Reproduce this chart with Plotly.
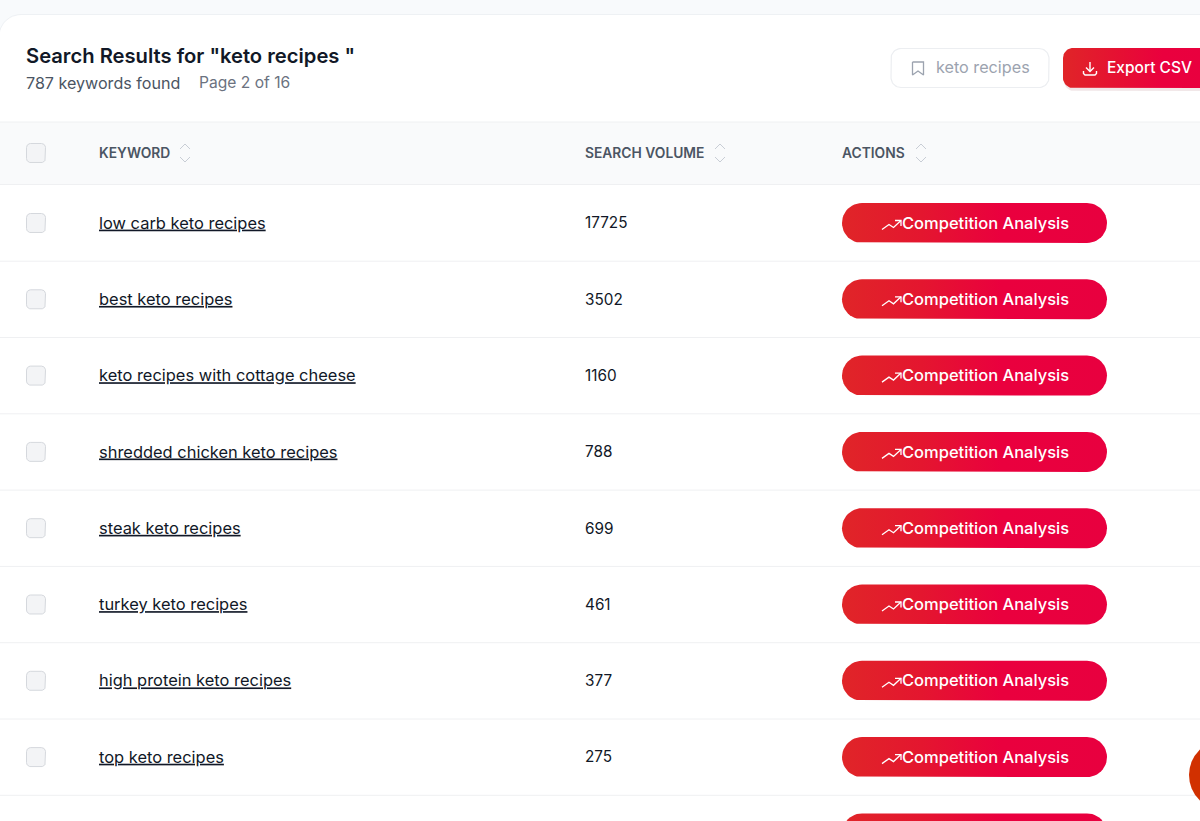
import math
import plotly.graph_objects as go

# ---- data ----
keywords = ["low carb keto recipes", "best keto recipes", "keto recipes with cottage cheese",
            "shredded chicken keto recipes", "steak keto recipes", "turkey keto recipes",
            "high protein keto recipes", "top keto recipes"]
volumes = [17725, 3502, 1160, 788, 699, 461, 377, 275]
columns = ["KEYWORD", "SEARCH VOLUME", "ACTIONS"]
action_label = "Competition Analysis"
title_text = 'Search Results for "keto recipes "'
found_text = "787 keywords found"
page_text = "Page 2 of 16"
tag_text = "keto recipes"
export_text = "Export CSV"

# ---- layout constants ----
W, H = 1200, 821
ROW0, STEP = 223.0, 76.3
FONT = "Inter"
INK = "#111827"
GRAD = [[0, "#e02528"], [0.3, "#e4162f"], [0.6, "#ea003e"], [1, "#e8003f"]]
TXT_DY = 1.5

fig = go.Figure()


def rrect(x0, y0, x1, y1, r):
    xs, ys = [], []
    for cx, cy, a0 in [(x1 - r, y0 + r, -90), (x1 - r, y1 - r, 0), (x0 + r, y1 - r, 90), (x0 + r, y0 + r, 180)]:
        for k in range(13):
            a = math.radians(a0 + k * 7.5)
            xs.append(cx + r * math.cos(a))
            ys.append(cy + r * math.sin(a))
    xs.append(xs[0])
    ys.append(ys[0])
    return xs, ys


def box(x0, y0, x1, y1, r, fill=None, line=None, width=1, grad=None):
    xs, ys = rrect(x0, y0, x1, y1, r)
    kw = dict(x=xs, y=ys, mode="lines", fill="toself", hoverinfo="skip",
              line=dict(color=line or "rgba(0,0,0,0)", width=width if line else 0))
    if grad:
        kw["fillgradient"] = dict(type="horizontal", colorscale=grad)
    else:
        kw["fillcolor"] = fill
    fig.add_trace(go.Scatter(**kw))


def stroke(xs, ys, color, width=1.3):
    fig.add_trace(go.Scatter(x=xs, y=ys, mode="lines", hoverinfo="skip",
                             line=dict(color=color, width=width)))


def label(xs, ys, texts, size, color, weight=400, under=False, pos="middle right"):
    font = dict(family=FONT, size=size, color=color, weight=weight)
    if under:
        font["lineposition"] = "under"
    fig.add_trace(go.Scatter(x=xs, y=[v + TXT_DY for v in ys], text=texts, mode="text", textposition=pos,
                             textfont=font, hoverinfo="skip"))


def chevrons(cx):
    stroke([cx - 5, cx, cx + 5], [149, 144, 149], "#c8cdd5", 1)
    stroke([cx - 5, cx, cx + 5], [157, 162, 157], "#c8cdd5", 1)


def hline(y, color="#eff0f2"):
    stroke([0, W], [y, y], color, 1)


# page strip and card
box(-40, -40, W + 40, H + 40, 0, fill="#f8fafc")
box(-1, 14.5, W + 60, H + 60, 22, fill="#ffffff", line="#eef1f4", width=1)

# header band
box(-2, 122, W + 2, 184.5, 0, fill="#f9fafb")
hline(122)

# title block
label([26], [56.8], [title_text], 20.2, INK, 600)
label([26], [83], [found_text], 16.1, "#4b5563", 400)
label([199], [83], [page_text], 15.6, "#6b7280", 400)

# tag chip
box(891, 48.5, 1049, 87.5, 10, fill="#ffffff", line="#eceef1", width=1.2)
stroke([912.5, 912.5, 918, 923.5, 923.5, 912.5], [62, 75, 71, 75, 62, 62], "#9ca3af", 1.3)
label([936], [67.4], [tag_text], 16.2, "#9ca3af", 400)

# export button
box(1064, 51, W + 30, 91, 10, fill="rgba(120,20,30,0.10)")
box(1063, 48, W + 30, 88, 10, grad=[[0, "#e02528"], [0.35, "#e60f33"], [0.6, "#ea003e"], [1, "#e8003f"]])
stroke([1090, 1090], [62, 71], "#ffffff", 1.4)
stroke([1086, 1090, 1094], [67.5, 71.5, 67.5], "#ffffff", 1.4)
stroke([1083.5, 1083.5, 1085, 1095, 1096.5, 1096.5], [71, 73.5, 75, 75, 73.5, 71], "#ffffff", 1.4)
label([1107], [67.4], [export_text], 15.5, "#ffffff", 500)

# table header
box(26.5, 143.5, 45.5, 162.5, 4, fill="#f3f4f6", line="#d5d8dd", width=1)
label([99, 585, 842], [153, 153, 153], columns, 13.8, "#4b5563", 600)
for cx in [185, 720, 921]:
    chevrons(cx)
hline(184.5)

# rows (one extra action button peeks in at the bottom)
for i in range(len(keywords) + 1):
    yc = ROW0 + i * STEP
    hline(yc + 38.2)
    box(842, yc - 20, 1107, yc + 20, 20, grad=GRAD)
    if i < len(keywords):
        box(26.5, yc - 9.5, 45.5, yc + 9.5, 4, fill="#f3f4f6", line="#d5d8dd", width=1)
        stroke([882, 889, 893.5, 901], [yc + 6.5, yc + 1.5, yc + 4.5, yc - 2.5], "#ffffff", 1.3)
        stroke([895, 901, 901], [yc - 2.5, yc - 2.5, yc + 3], "#ffffff", 1.3)

rows_y = [ROW0 + i * STEP for i in range(len(keywords))]
label([99] * len(keywords), rows_y, keywords, 16.45, INK, 400, under=True)
label([585] * len(volumes), rows_y, [str(v) for v in volumes], 15.3, INK, 400)
label([902] * len(keywords), rows_y, [action_label] * len(keywords), 16.5, "#ffffff", 500)

# floating help bubble
fig.add_shape(type="circle", x0=1189, x1=1259, y0=740, y1=810, fillcolor="#d13000", line_width=0)

fig.update_layout(
    width=W, height=H, margin=dict(l=0, r=0, t=0, b=0),
    paper_bgcolor="#ffffff", plot_bgcolor="#ffffff", showlegend=False, hovermode=False,
    xaxis=dict(range=[0, W], visible=False, fixedrange=True),
    yaxis=dict(range=[H, 0], visible=False, fixedrange=True),
)
fig.write_html("out.html", config={"displayModeBar": False},
               post_script="document.body.style.margin='0';document.body.style.overflow='hidden';")
